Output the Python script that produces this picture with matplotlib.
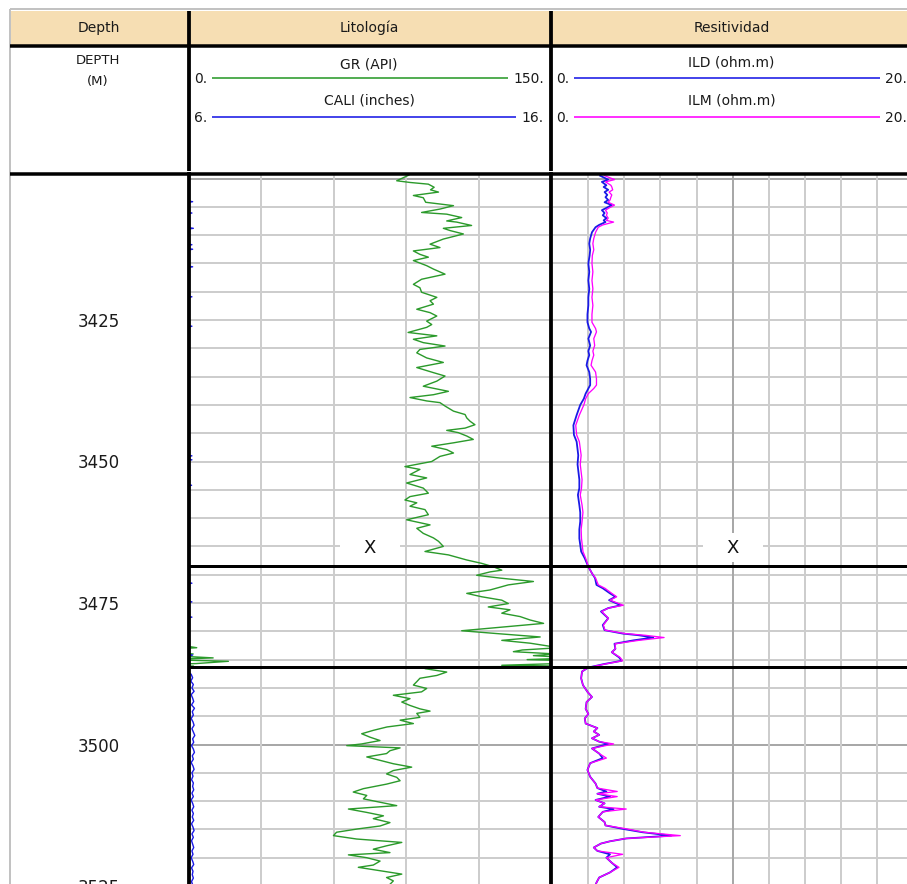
import matplotlib
matplotlib.use("Agg")
import matplotlib.pyplot as plt
from matplotlib.patches import Rectangle
from matplotlib.transforms import offset_copy
import numpy as np

plt.rcParams['font.family'] = ['DejaVu Sans']

# ---------------------------------------------------------------- data
track_titles = ["Depth", "Litología", "Resitividad"]
depth_labels = [3425, 3450, 3475, 3500, 3525]
zone_tops = [3468.5, 3486.3]
mark_depth = 3465.2

gr_scale = (0, 150)
cali_scale = (6, 16)
res_scale = (0, 20)

gr_depth = [
    3399.4, 3400.4, 3400.7, 3401.0, 3401.55, 3402.0, 3402.4, 3403.0, 3403.4, 3404.2,
    3404.8, 3405.4, 3406.0, 3406.3, 3406.9, 3407.5, 3407.7, 3408.3, 3408.8, 3409.2,
    3409.8, 3410.7, 3411.6, 3412.2, 3412.8, 3413.4, 3413.9, 3414.5, 3415.4, 3416.0,
    3416.9, 3417.8, 3418.7, 3419.3, 3420.1, 3421.0, 3421.6, 3422.2, 3423.1, 3423.7,
    3424.3, 3425.2, 3425.8, 3426.3, 3427.2, 3427.8, 3428.4, 3429.0, 3429.6, 3430.2,
    3430.8, 3431.7, 3432.5, 3433.4, 3434.3, 3434.9, 3435.8, 3436.7, 3437.6, 3438.2,
    3438.7, 3439.3, 3439.6, 3440.2, 3441.1, 3441.7, 3442.3, 3442.9, 3443.5, 3444.1,
    3444.5, 3444.9, 3445.5, 3446.1, 3446.7, 3447.3, 3447.9, 3448.5, 3449.1, 3450.0,
    3450.9, 3451.4, 3452.3, 3452.9, 3453.8, 3454.7, 3455.6, 3456.2, 3456.8, 3457.3,
    3457.9, 3458.5, 3459.4, 3460.3, 3461.2, 3461.8, 3462.7, 3463.5, 3464.1, 3465.0,
    3465.9, 3466.5, 3467.4, 3468.0, 3468.6, 3469.2, 3469.5, 3470.1, 3470.6, 3471.2,
    3471.8, 3472.7, 3473.3, 3473.9, 3474.5, 3475.1, 3475.7, 3476.2, 3476.8, 3477.4,
    3478.0, 3478.6, 3479.5, 3479.9, 3480.4, 3481.0, 3481.6, 3482.1, 3482.9, 3483.3,
    3483.6, 3484.0, 3484.3, 3484.7, 3485.0, 3485.3, 3485.7, 3486.0, 3486.2, 3486.3,
    3486.4, 3486.6, 3487.2, 3487.8, 3488.3, 3488.9, 3489.5, 3490.1, 3490.7, 3491.3,
    3491.9, 3492.5, 3493.1, 3493.7, 3494.1, 3494.5, 3495.2, 3495.7, 3496.3, 3496.9,
    3497.5, 3498.1, 3498.7, 3499.3, 3499.9, 3500.2, 3500.6, 3501.1, 3501.6, 3502.2,
    3502.8, 3503.4, 3504.0, 3504.6, 3505.2, 3505.8, 3506.4, 3507.0, 3507.8, 3508.4,
    3509.0, 3509.6, 3510.2, 3510.8, 3511.4, 3512.0, 3512.6, 3513.1, 3513.8, 3514.4,
    3514.9, 3515.5, 3516.1, 3516.7, 3517.3, 3517.9, 3518.5, 3519.1, 3519.5, 3520.0,
    3520.6, 3521.3, 3521.7, 3522.3, 3522.9, 3523.5, 3524.1, 3524.7,
]
gr_api = [
    91.0, 86.0, 91.5, 99.1, 101.5, 100.0, 103.3, 92.9, 97.0, 98.0,
    109.5, 103.9, 96.3, 106.7, 112.9, 106.7, 110.8, 117.0, 105.3, 108.1,
    113.6, 105.3, 99.8, 103.9, 92.9, 95.6, 99.1, 92.9, 98.4, 101.2,
    106.0, 96.3, 92.9, 95.6, 96.3, 102.6, 99.8, 101.2, 94.3, 99.8,
    102.6, 98.4, 100.5, 98.4, 90.7, 102.6, 92.9, 97.0, 106.0, 95.6,
    94.3, 98.4, 105.3, 94.3, 101.2, 106.0, 102.6, 97.0, 107.4, 101.2,
    91.5, 98.4, 103.9, 106.0, 109.5, 114.3, 115.0, 116.4, 118.4, 114.3,
    106.7, 111.5, 115.0, 117.7, 109.5, 100.5, 106.7, 109.5, 103.9, 100.5,
    89.4, 95.6, 91.5, 98.4, 90.1, 97.0, 99.1, 91.5, 89.4, 94.3,
    91.5, 97.7, 99.1, 90.1, 99.8, 94.3, 97.0, 101.2, 103.3, 105.3,
    97.7, 107.4, 115.0, 121.2, 126.0, 129.5, 124.7, 119.1, 128.8, 142.6,
    132.2, 124.6, 115.0, 121.2, 129.5, 132.2, 123.9, 132.9, 129.5, 137.1,
    141.2, 146.8, 123.3, 112.9, 127.4, 145.4, 129.5, 141.2, 153.2, 138.0,
    134.3, 151.7, 142.6, 160.0, 140.0, 166.3, 153.0, 129.5, 152.0, 96.0,
    105.0, 97.7, 106.7, 102.6, 95.6, 94.3, 92.9, 98.4, 96.3, 84.6,
    91.5, 88.1, 91.5, 95.6, 99.8, 94.3, 95.6, 87.4, 92.9, 82.0,
    76.3, 71.5, 74.9, 79.1, 71.5, 65.3, 87.4, 83.2, 81.8, 73.6,
    79.1, 84.6, 92.2, 84.6, 81.8, 86.0, 87.4, 81.8, 72.2, 68.0,
    73.6, 72.2, 79.1, 86.0, 66.0, 73.6, 80.5, 76.3, 83.2, 79.1,
    70.1, 61.1, 59.8, 69.4, 88.1, 81.8, 76.3, 83.2, 66.0, 73.6,
    79.1, 76.3, 70.1, 79.1, 88.1, 81.8, 84.6, 83.2,
]

cali_depth = [
    3399.4, 3403.9, 3404.1, 3404.3, 3405.9, 3406.1, 3406.3, 3408.6, 3408.8, 3409.0,
    3411.5, 3411.7, 3411.9, 3412.3, 3412.5, 3412.7, 3415.4, 3415.6, 3415.8, 3420.7,
    3420.9, 3421.1, 3425.9, 3426.1, 3426.3, 3448.8, 3449.0, 3449.2, 3449.5, 3449.7,
    3449.9, 3454.0, 3454.2, 3454.4, 3471.3, 3471.5, 3471.7, 3474.6, 3474.8, 3475.0,
    3477.3, 3477.5, 3477.7, 3484.0, 3484.2, 3484.4, 3487.0, 3487.6, 3488.2, 3488.8,
    3489.4, 3490.0, 3490.6, 3491.2, 3491.8, 3492.4, 3493.0, 3493.6, 3494.2, 3494.8,
    3495.4, 3496.0, 3496.6, 3497.2, 3497.8, 3498.4, 3499.0, 3499.6, 3500.2, 3500.8,
    3501.4, 3502.0, 3502.6, 3503.2, 3503.8, 3504.4, 3505.0, 3505.6, 3506.2, 3506.8,
    3507.4, 3508.0, 3508.6, 3509.2, 3509.8, 3510.4, 3511.0, 3511.6, 3512.2, 3512.8,
    3513.4, 3514.0, 3514.6, 3515.2, 3515.8, 3516.4, 3517.0, 3517.6, 3518.2, 3518.8,
    3519.4, 3520.0, 3520.6, 3521.2, 3521.8, 3522.4, 3523.0, 3523.6, 3524.2, 3524.8,
]
cali_in = [
    5.90, 5.90, 6.10, 5.90, 5.90, 6.08, 5.90, 5.90, 6.12, 5.90,
    5.90, 6.08, 5.90, 5.90, 6.10, 5.90, 5.90, 6.10, 5.90, 5.90,
    6.08, 5.90, 5.90, 6.08, 5.90, 5.90, 6.08, 5.90, 5.90, 6.08,
    5.90, 5.90, 6.07, 5.90, 5.90, 6.08, 5.90, 5.90, 6.08, 5.90,
    5.90, 6.08, 5.90, 5.90, 6.10, 5.90, 5.95, 6.06, 6.10, 6.05,
    6.12, 6.08, 6.14, 6.06, 6.10, 6.13, 6.07, 6.15, 6.09, 6.12,
    6.06, 6.11, 6.14, 6.08, 6.12, 6.16, 6.10, 6.13, 6.07, 6.12,
    6.15, 6.09, 6.12, 6.06, 6.11, 6.14, 6.08, 6.11, 6.07, 6.12,
    6.10, 6.13, 6.08, 6.12, 6.06, 6.10, 6.13, 6.08, 6.12, 6.09,
    6.13, 6.07, 6.11, 6.14, 6.08, 6.12, 6.07, 6.10, 6.13, 6.08,
    6.11, 6.06, 6.10, 6.13, 6.07, 6.11, 6.09, 6.12, 6.07, 6.10,
]

res_depth = [
    3399.5, 3400.2, 3400.6, 3401.2, 3401.5, 3402.0, 3402.4, 3402.9, 3403.3, 3403.8,
    3404.2, 3404.7, 3405.2, 3405.6, 3406.1, 3406.5, 3407.0, 3407.4, 3407.7, 3408.2,
    3408.6, 3409.5, 3410.6, 3411.5, 3412.6, 3413.6, 3415.0, 3416.5, 3418.0, 3419.5,
    3421.0, 3422.4, 3424.0, 3425.4, 3426.5, 3427.1, 3428.3, 3429.5, 3430.5, 3431.2,
    3432.2, 3433.0, 3434.2, 3435.4, 3436.5, 3437.1, 3438.0, 3438.9, 3440.0, 3441.8,
    3443.6, 3445.3, 3446.5, 3448.9, 3450.5, 3451.8, 3453.2, 3454.7, 3455.9, 3457.7,
    3459.0, 3460.6, 3462.0, 3463.6, 3465.9, 3467.1, 3468.6, 3469.75, 3470.6, 3471.8,
    3472.4, 3473.3, 3473.9, 3474.5, 3475.4, 3475.9, 3476.5, 3477.7, 3478.9, 3479.8,
    3480.4, 3480.7, 3481.1, 3481.6, 3482.2, 3483.1, 3483.7, 3484.6, 3485.2, 3485.8,
    3486.4, 3487.1, 3488.3, 3489.5, 3490.7, 3491.6, 3492.5, 3493.7, 3494.6, 3495.4,
    3496.3, 3497.1, 3497.7, 3498.3, 3498.9, 3499.5, 3499.9, 3500.7, 3501.6, 3502.4,
    3503.3, 3504.5, 3505.7, 3506.9, 3507.7, 3508.3, 3508.7, 3509.2, 3509.8, 3510.4,
    3511.0, 3511.4, 3511.9, 3512.8, 3513.7, 3514.3, 3514.9, 3515.5, 3516.1, 3516.6,
    3517.1, 3517.5, 3518.2, 3518.8, 3519.4, 3520.0, 3520.9, 3521.7, 3522.6, 3523.5,
    3524.4, 3524.8,
]
ild = [
    2.65, 3.10, 2.75, 3.00, 2.85, 3.10, 2.90, 3.05, 2.95, 3.10,
    2.90, 3.30, 3.00, 2.75, 2.90, 2.80, 3.00, 2.85, 2.95, 2.60,
    2.40, 2.20, 2.10, 2.05, 2.10, 2.07, 2.00, 2.05, 2.00, 2.05,
    2.00, 2.00, 1.95, 1.95, 2.05, 2.15, 2.00, 2.10, 2.00, 2.05,
    1.95, 1.90, 2.05, 2.10, 2.10, 2.00, 1.85, 1.75, 1.55, 1.35,
    1.17, 1.20, 1.35, 1.44, 1.40, 1.45, 1.50, 1.50, 1.42, 1.50,
    1.55, 1.55, 1.50, 1.50, 1.60, 1.80, 2.00, 2.20, 2.37, 2.45,
    2.80, 3.20, 3.50, 3.15, 3.80, 3.10, 2.70, 3.10, 2.80, 2.90,
    3.90, 4.80, 5.60, 4.50, 3.45, 3.50, 3.30, 3.70, 3.85, 2.85,
    2.00, 1.65, 1.60, 1.70, 1.95, 2.20, 1.90, 1.85, 2.00, 1.80,
    1.85, 2.50, 2.30, 2.60, 2.20, 2.60, 3.10, 2.20, 2.60, 2.80,
    2.10, 1.95, 2.10, 2.40, 2.50, 3.00, 2.50, 3.20, 2.40, 2.90,
    2.60, 3.40, 2.80, 2.55, 2.90, 2.95, 3.90, 5.00, 6.60, 4.10,
    3.20, 2.70, 2.30, 2.50, 3.20, 3.00, 3.30, 3.60, 3.20, 2.60,
    2.45, 2.40,
]
ilm = [
    2.90, 3.45, 2.95, 3.25, 3.30, 3.35, 3.15, 3.30, 3.25, 3.20,
    3.10, 3.45, 3.15, 2.95, 3.05, 3.00, 3.10, 3.00, 3.40, 2.80,
    2.55, 2.40, 2.30, 2.25, 2.30, 2.22, 2.20, 2.25, 2.20, 2.25,
    2.20, 2.25, 2.20, 2.20, 2.40, 2.45, 2.30, 2.35, 2.25, 2.30,
    2.20, 2.15, 2.40, 2.45, 2.45, 2.30, 2.00, 1.85, 1.75, 1.50,
    1.30, 1.35, 1.50, 1.60, 1.55, 1.60, 1.65, 1.62, 1.55, 1.65,
    1.70, 1.65, 1.60, 1.62, 1.70, 1.85, 2.00, 2.20, 2.40, 2.55,
    2.92, 3.30, 3.57, 3.20, 3.94, 3.11, 2.74, 3.11, 2.83, 2.92,
    4.03, 5.14, 6.20, 4.80, 3.48, 3.50, 3.30, 3.75, 3.90, 2.90,
    2.00, 1.65, 1.60, 1.70, 1.95, 2.20, 1.90, 1.85, 2.00, 1.80,
    1.85, 2.50, 2.30, 2.60, 2.20, 2.60, 3.40, 2.20, 2.60, 3.00,
    2.10, 1.95, 2.10, 2.40, 2.50, 3.60, 2.50, 3.60, 2.40, 2.90,
    2.60, 4.10, 2.80, 2.55, 2.90, 2.95, 4.10, 5.10, 7.10, 4.10,
    3.20, 2.70, 2.30, 2.50, 3.90, 3.00, 3.30, 3.70, 3.20, 2.60,
    2.45, 2.40,
]

# ---------------------------------------------------------------- layout
W, H = 907, 884
PX_PER_M = 5.66
REF_DEPTH, REF_Y = 3450.0, 461.5
DATA_TOP, DATA_BOT = 175, 884
d_top = REF_DEPTH - (REF_Y - DATA_TOP) / PX_PER_M
d_bot = REF_DEPTH + (DATA_BOT - REF_Y) / PX_PER_M

TEXT = '#1a1a1a'
GRID = '#cdcdcd'
GRID_MAJOR = '#a8a8a8'
TAN = '#f6deb3'
GR_COLOR = '#2b9a2b'
BLUE = '#1a1ae6'
MAGENTA = '#ff00ff'

fig = plt.figure(figsize=(W / 100, H / 100), dpi=100)
fig.patch.set_facecolor('white')


def px_axes(x0, y0, x1, y1, **kw):
    return fig.add_axes([x0 / W, 1 - y1 / H, (x1 - x0) / W, (y1 - y0) / H], **kw)


def lw(px):
    return px * 72 / 100


# background: outer frame and header band
bg = px_axes(0, 0, W, H, zorder=0)
bg.set_xlim(0, W)
bg.set_ylim(H, 0)
bg.axis('off')
bg.add_patch(Rectangle((11, 10.5), W - 11, 34, facecolor=TAN, edgecolor='none'))
bg.plot([10, W], [9, 9], color='#c2c2c2', lw=lw(2), solid_capstyle='butt')
bg.plot([10, 10], [9, H], color='#c2c2c2', lw=lw(2), solid_capstyle='butt')

# track titles
for title, xc in zip(track_titles, [99, 369.5, 731.5]):
    bg.text(xc, 28, title, ha='center', va='center', fontsize=10, color=TEXT)

# curve headers
bg.text(98, 61, "DEPTH", ha='center', va='center', fontsize=9.5, color=TEXT)
bg.text(98, 81, "(M)", ha='center', va='center', fontsize=9.5, color=TEXT)


def curve_header(x_left, x_right, line_x0, line_x1, y_name, y_line, name, scale, color):
    bg.text((x_left + x_right) / 2, y_name, name, ha='center', va='center',
            fontsize=10, color=TEXT)
    bg.plot([line_x0, line_x1], [y_line, y_line], color=color, lw=lw(1.6),
            solid_capstyle='butt')
    bg.text(x_left, y_line + 1, f"{scale[0]}.", ha='left', va='center',
            fontsize=10, color=TEXT)
    bg.text(x_right, y_line + 1, f"{scale[1]}.", ha='right', va='center',
            fontsize=10, color=TEXT)


curve_header(194, 544, 212, 508, 64, 78, "GR (API)", gr_scale, GR_COLOR)
curve_header(194, 544, 212, 516, 101, 117, "CALI (inches)", cali_scale, BLUE)
curve_header(556, 907, 574, 880, 63, 78, "ILD (ohm.m)", res_scale, BLUE)
curve_header(556, 907, 574, 880, 101, 117, "ILM (ohm.m)", res_scale, MAGENTA)

# ---------------------------------------------------------------- tracks
ax_depth = px_axes(10, DATA_TOP, 188, DATA_BOT, zorder=1)
ax_depth.set_ylim(d_bot, d_top)
ax_depth.axis('off')
# depth numbers sit with their digit centres on the depth line
label_tr = offset_copy(ax_depth.get_yaxis_transform(), fig=fig, x=0, y=-2, units='dots')
for d in depth_labels:
    ax_depth.text(0.5, d, str(d), transform=label_tr,
                  ha='center', va='center', fontsize=12, color=TEXT, clip_on=False)

LITO_X0, LITO_X1 = 189, 551.3
RES_X0, RES_X1 = 552.3, 912.9
ax_lito = px_axes(LITO_X0, DATA_TOP, LITO_X1, DATA_BOT, zorder=1)
ax_res = px_axes(RES_X0, DATA_TOP, RES_X1, DATA_BOT, zorder=1)

grid_depths = np.arange(3400, 3526, 5)
for ax, scale, vgrid, x0, x1 in [
    (ax_lito, gr_scale, np.arange(30, 150, 30), LITO_X0, LITO_X1),
    (ax_res, res_scale, np.arange(2, 20, 2), RES_X0, RES_X1),
]:
    ax.set_xlim(*scale)
    ax.set_ylim(d_bot, d_top)
    ax.axis('off')
    for d in grid_depths:
        ax.axhline(d, color=GRID_MAJOR if d % 100 == 0 else GRID, lw=lw(2), zorder=1)
    for v in vgrid:
        major = ax is ax_res and v == 10
        ax.axvline(v, color=GRID_MAJOR if major else GRID, lw=lw(2), zorder=1)
    # label box with the "X" marker in the middle of the track
    per_px_x = (scale[1] - scale[0]) / (x1 - x0)
    xc = (scale[0] + scale[1]) / 2
    bw, bh = 60 * per_px_x, 29 / PX_PER_M
    ax.add_patch(Rectangle((xc - bw / 2, mark_depth - bh / 2), bw, bh,
                           facecolor='white', edgecolor='none', zorder=2))
    ax.text(xc, mark_depth, "X", ha='center', va='center', fontsize=13,
            color='#111111', zorder=3)
    for z in zone_tops:
        ax.axhline(z, color='black', lw=lw(3), zorder=6)

# GR with wrap-around onto the backup scale, and caliper on its own scale
gr = np.array(gr_api)
span = gr_scale[1] - gr_scale[0]
ax_lito.plot(gr, gr_depth, color=GR_COLOR, lw=lw(1.4), zorder=4)
ax_lito.plot(gr - span, gr_depth, color=GR_COLOR, lw=lw(1.4), zorder=4)
cali_x = gr_scale[0] + (np.array(cali_in) - cali_scale[0]) * span / (cali_scale[1] - cali_scale[0])
ax_lito.plot(cali_x, cali_depth, color=BLUE, lw=lw(1.4), zorder=4)

ax_res.plot(ild, res_depth, color=BLUE, lw=lw(1.8), zorder=4)
ax_res.plot(ilm, res_depth, color=MAGENTA, lw=lw(1.3), zorder=5)

# ---------------------------------------------------------------- frame lines
ov = px_axes(0, 0, W, H, zorder=10)
ov.set_xlim(0, W)
ov.set_ylim(H, 0)
ov.axis('off')
ov.plot([10, W], [45.5, 45.5], color='black', lw=lw(3.5), solid_capstyle='butt')
ov.plot([10, W], [174, 174], color='black', lw=lw(3.5), solid_capstyle='butt')
for x in (188.5, 550.5):
    ov.plot([x, x], [10.5, 170.5], color='black', lw=lw(3.8), solid_capstyle='butt')
    ov.plot([x, x], [172, H], color='black', lw=lw(3.8), solid_capstyle='butt')

fig.savefig("out.png", dpi=100)
